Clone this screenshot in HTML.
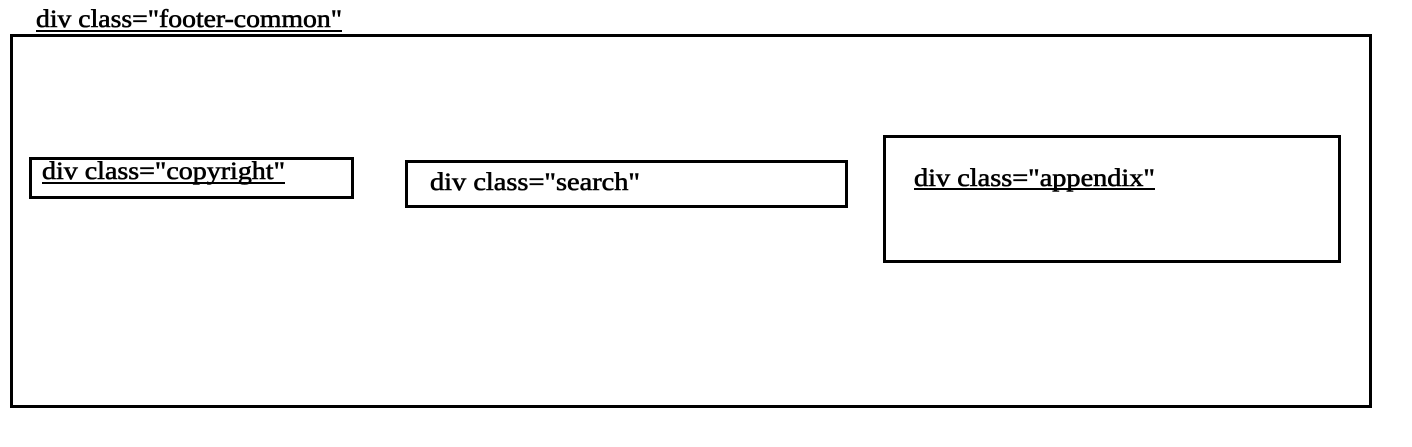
<!DOCTYPE html>
<html><head><style>html,body{margin:0;padding:0;background:#fff;}svg{display:block}</style></head>
<body>
<svg width="1412" height="447" viewBox="0 0 1412 447" xmlns="http://www.w3.org/2000/svg">
<g fill="none" stroke="#000" stroke-width="3">
<rect x="11.5" y="35.5" width="1359" height="371"/>
<rect x="30.5" y="158.5" width="322" height="39"/>
<rect x="406.5" y="161.5" width="440" height="45"/>
<rect x="884.5" y="136.5" width="455" height="125"/>
</g>
<g font-family="Liberation Serif, DejaVu Serif, serif" font-size="25" fill="#000" stroke="#000" stroke-width="0.6">
<text x="36" y="27" textLength="306" lengthAdjust="spacingAndGlyphs">div class="footer-common"</text>
<text x="42" y="179" textLength="243" lengthAdjust="spacingAndGlyphs">div class="copyright"</text>
<text x="430" y="190" textLength="210" lengthAdjust="spacingAndGlyphs">div class="search"</text>
<text x="914" y="186" textLength="241" lengthAdjust="spacingAndGlyphs">div class="appendix"</text>
</g>
<g stroke="#000" stroke-width="2">
<line x1="36" y1="31" x2="342" y2="31"/>
<line x1="42" y1="183" x2="285" y2="183"/>
<line x1="914" y1="189" x2="1155" y2="189"/>
</g>
</svg>
</body></html>
